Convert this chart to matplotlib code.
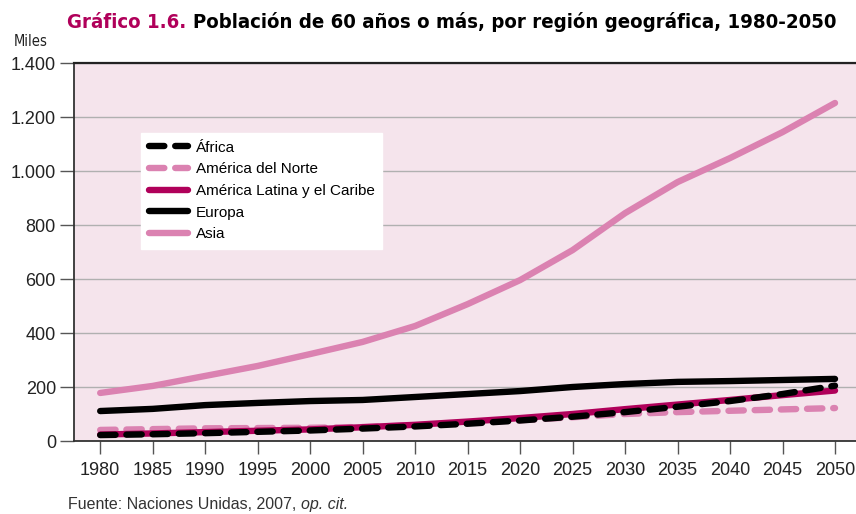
import matplotlib
matplotlib.use('Agg')
import matplotlib.pyplot as plt

years = [1980, 1985, 1990, 1995, 2000, 2005, 2010, 2015, 2020, 2025, 2030, 2035, 2040, 2045, 2050]
africa = [22, 25, 29, 34, 39, 46, 54, 64, 76, 90, 107, 127, 148, 174, 205]
america_norte = [41, 44, 47, 48, 49, 52, 58, 67, 77, 88, 100, 107, 112, 117, 122]
america_latina = [24, 28, 33, 38, 43, 51, 60, 72, 85, 100, 118, 135, 152, 170, 187]
europa = [111, 119, 133, 141, 148, 152, 163, 174, 185, 200, 211, 219, 222, 226, 230]
asia = [178, 204, 241, 278, 322, 367, 426, 507, 596, 707, 844, 959, 1048, 1144, 1252]

y_ticks = [0, 200, 400, 600, 800, 1000, 1200, 1400]
y_labels = ['0', '200', '400', '600', '800', '1.000', '1.200', '1.400']

pink = '#db82b1'
crimson = '#b0005a'
bg = '#f5e4ec'

plt.rcParams['font.family'] = ['Liberation Sans', 'DejaVu Sans']

fig = plt.figure(figsize=(8.56, 5.14), dpi=100)
ax = fig.add_axes([0.0864, 0.142, 0.9136, 0.7354])
ax.set_facecolor(bg)

dash = (0, (2.4, 1.7))
lw = 4.6
ax.plot(years, america_norte, color=pink, lw=lw, linestyle=dash, dash_capstyle='round',
        label='América del Norte', zorder=3)
ax.plot(years, america_latina, color=crimson, lw=lw, solid_capstyle='round',
        label='América Latina y el Caribe', zorder=4)
ax.plot(years, africa, color='black', lw=lw, linestyle=dash, dash_capstyle='round',
        label='África', zorder=5)
ax.plot(years, europa, color='black', lw=lw, solid_capstyle='round', label='Europa', zorder=5)
ax.plot(years, asia, color=pink, lw=lw, solid_capstyle='round', label='Asia', zorder=5)

ax.set_xlim(1977.5, 2052)
ax.set_ylim(0, 1400)
ax.set_xticks(years)
ax.set_xticklabels([str(y) for y in years], fontsize=13, color='#222222')
ax.set_yticks(y_ticks)
ax.set_yticklabels(y_labels, fontsize=13, color='#222222')
ax.tick_params(axis='x', direction='out', length=9, width=1, color='#555555', pad=6)
ax.tick_params(axis='y', direction='out', length=10, width=1, color='#555555', pad=3)
ax.grid(axis='y', color='#b0b0b0', lw=1)
ax.set_axisbelow(True)

ax.spines['right'].set_visible(False)
ax.spines['top'].set_color('#222222')
ax.spines['top'].set_linewidth(1.6)
ax.spines['left'].set_color('#333333')
ax.spines['left'].set_linewidth(1.3)
ax.spines['bottom'].set_color('#333333')
ax.spines['bottom'].set_linewidth(1.3)

handles, labels = ax.get_legend_handles_labels()
order = ['África', 'América del Norte', 'América Latina y el Caribe', 'Europa', 'Asia']
h = [handles[labels.index(l)] for l in order]
leg = ax.legend(h, order, loc='upper left', bbox_to_anchor=(0.0857, 0.815), fontsize=11,
                frameon=True, fancybox=False, framealpha=1, edgecolor='white',
                handlelength=2.6, labelspacing=0.5, borderpad=0.5, handletextpad=0.5,
                borderaxespad=0)

# title in two colors
renderer = fig.canvas.get_renderer()
title_font = dict(fontsize=15.3, fontweight='bold', family='DejaVu Sans', fontstretch='condensed',
                  va='baseline')
t1 = fig.text(67 / 856, 1 - 28 / 514, 'Gráfico 1.6.', color=crimson, **title_font)
bb = t1.get_window_extent(renderer=renderer)
t2 = fig.text((bb.x1 + 7) / fig.bbox.width, 1 - 28 / 514,
              'Población de 60 años o más, por región geográfica, 1980-2050',
              color='black', **title_font)
# shrink title if it runs past the right edge
bb2 = t2.get_window_extent(renderer=renderer)
if bb2.x1 > 840:
    scale = (840 - 67) / (bb2.x1 - 67)
    for t in (t1, t2):
        t.set_fontsize(15.3 * scale)
    bb = t1.get_window_extent(renderer=renderer)
    t2.set_x((bb.x1 + 7) / fig.bbox.width)

fig.text(14 / 856, 1 - 46 / 514, 'Miles', fontsize=10.5, color='#222222',
         family='DejaVu Sans', fontstretch='condensed', va='baseline')

# source line
f1 = fig.text(68 / 856, 1 - 509 / 514, 'Fuente: Naciones Unidas, 2007, ', fontsize=11.5,
              color='#333333', va='baseline')
bb = f1.get_window_extent(renderer=renderer)
fig.text(bb.x1 / fig.bbox.width, 1 - 509 / 514, 'op. cit.', fontsize=11.5, style='italic',
         color='#333333', va='baseline')

fig.savefig('out.png', dpi=100)
